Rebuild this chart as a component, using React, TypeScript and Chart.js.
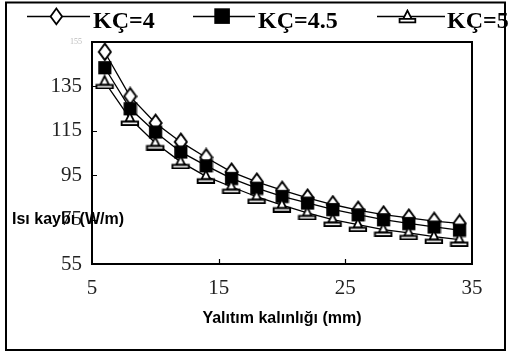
import React, { useEffect, useRef } from "react";
import { Chart, registerables } from "chart.js";

Chart.register(...registerables);

const thickness = [6, 8, 10, 12, 14, 16, 18, 20, 22, 24, 26, 28, 30, 32, 34];
const seriesLabels = ["KÇ=4", "KÇ=4.5", "KÇ=5"];
const kc4 = [150.5, 130.5, 118.5, 110, 103, 96.5, 92, 88.3, 84.8, 81.8, 79.3, 77.2, 75.8, 74.3, 73.3];
const kc45 = [143.5, 125, 114.5, 105.5, 99.3, 93.6, 89.2, 85.5, 82.5, 79.6, 77.2, 75, 73.3, 71.7, 70.3];
const kc5 = [137, 120.5, 109.5, 101, 94.5, 89.8, 85.3, 81.5, 78, 75, 72.7, 70.5, 69, 67.3, 66];
const yTitle = "Isı kaybı (W/m)";
const xTitle = "Yalıtım kalınlığı (mm)";

function makeMarker(kind: string, s = 1): HTMLCanvasElement {
  const c = document.createElement("canvas");
  const ctx = c.getContext("2d")!;
  if (kind === "diamond") {
    c.width = Math.round(14 * s);
    c.height = Math.round(18 * s);
    ctx.scale(s, s);
    ctx.beginPath();
    ctx.moveTo(7, 1.5);
    ctx.lineTo(12.5, 9);
    ctx.lineTo(7, 16.5);
    ctx.lineTo(1.5, 9);
    ctx.closePath();
    ctx.fillStyle = "#fff";
    ctx.fill();
    ctx.lineWidth = 1.7;
    ctx.strokeStyle = "#000";
    ctx.stroke();
  } else if (kind === "square") {
    c.width = Math.round(14 * s);
    c.height = Math.round(14 * s);
    ctx.scale(s, s);
    ctx.fillStyle = "#000";
    ctx.fillRect(1, 1, 12, 12);
  } else {
    c.width = Math.round(18 * s);
    c.height = Math.round(14 * s);
    ctx.scale(s, s);
    ctx.fillStyle = "#fff";
    ctx.strokeStyle = "#000";
    ctx.lineWidth = 1.7;
    ctx.beginPath();
    ctx.moveTo(9, 1.5);
    ctx.lineTo(13, 9.5);
    ctx.lineTo(5, 9.5);
    ctx.closePath();
    ctx.fill();
    ctx.stroke();
    ctx.beginPath();
    ctx.rect(1.5, 9.5, 15, 3.2);
    ctx.fill();
    ctx.stroke();
  }
  return c;
}

export default function App() {
  const ref = useRef<HTMLCanvasElement>(null);
  useEffect(() => {
    const canvas = ref.current!;
    const mDiamond = makeMarker("diamond", 1.1);
    const mSquare = makeMarker("square", 1.1);
    const mTri = makeMarker("tri", 1.1);
    const lDiamond = makeMarker("diamond", 1.05);
    const lSquare = makeMarker("square", 1.3);
    const lTri = makeMarker("tri", 1.05);

    const mk = (vals: number[]) => thickness.map((x, i) => ({ x, y: vals[i] }));

    const decor = {
      id: "decor",
      afterDraw(chart: any) {
        const ctx = chart.ctx;
        const a = chart.chartArea;
        const xs = chart.scales.x;
        const ys = chart.scales.y;
        ctx.save();
        // inward ticks
        ctx.strokeStyle = "#000";
        ctx.lineWidth = 1.2;
        ctx.beginPath();
        [75, 95, 115, 135].forEach((v) => {
          const p = Math.round(ys.getPixelForValue(v)) + 0.5;
          ctx.moveTo(a.left, p);
          ctx.lineTo(a.left + 5, p);
        });
        [15, 25].forEach((v) => {
          const p = Math.round(xs.getPixelForValue(v)) + 0.5;
          ctx.moveTo(p, a.bottom);
          ctx.lineTo(p, a.bottom - 5);
        });
        ctx.stroke();
        // plot frame
        ctx.lineWidth = 2;
        ctx.strokeRect(a.left, a.top, a.right - a.left, a.bottom - a.top);

        // legend
        const items = [
          { x0: 27, x1: 90, mx: 56, tx: 93, img: lDiamond },
          { x0: 193, x1: 255, mx: 222, tx: 258, img: lSquare },
          { x0: 377, x1: 445, mx: 407, tx: 447, img: lTri },
        ];
        const ly = 16;
        ctx.lineWidth = 1.4;
        ctx.font = "bold 24px 'Liberation Serif', 'Times New Roman', serif";
        ctx.fillStyle = "#000";
        ctx.textBaseline = "alphabetic";
        ctx.textAlign = "left";
        items.forEach((it, i) => {
          ctx.beginPath();
          ctx.moveTo(it.x0, ly + 0.5);
          ctx.lineTo(it.x1, ly + 0.5);
          ctx.stroke();
          ctx.drawImage(it.img, Math.round(it.mx - it.img.width / 2), Math.round(ly - it.img.height / 2));
          ctx.fillText(seriesLabels[i], it.tx, 28);
        });

        // titles
        ctx.font = "bold 16px 'Liberation Sans', Arial, sans-serif";
        ctx.textBaseline = "middle";
        ctx.textAlign = "left";
        ctx.fillText(yTitle, 12, 220);
        ctx.textAlign = "center";
        ctx.fillText(xTitle, (a.left + a.right) / 2, 319);

        // outer border
        ctx.lineWidth = 2;
        ctx.strokeRect(6, 2.5, 499, 347.5);
        ctx.restore();
      },
    };

    const labelFont = (c: any) =>
      c.tick && c.tick.value === 155
        ? { family: "'Liberation Serif', serif", size: 8 }
        : { family: "'Liberation Serif', 'Times New Roman', serif", size: 21 };
    const labelColor = (c: any) => (c.tick && c.tick.value === 155 ? "#bbb" : "#222");

    const chart = new Chart(canvas, {
      type: "line",
      data: {
        datasets: [
          {
            label: seriesLabels[2],
            data: mk(kc5),
            borderColor: "#000",
            borderWidth: 1.3,
            pointStyle: mTri as any,
            order: 1,
          },
          {
            label: seriesLabels[1],
            data: mk(kc45),
            borderColor: "#000",
            borderWidth: 1.3,
            pointStyle: mSquare as any,
            order: 2,
          },
          {
            label: seriesLabels[0],
            data: mk(kc4),
            borderColor: "#000",
            borderWidth: 1.3,
            pointStyle: mDiamond as any,
            order: 3,
          },
        ],
      },
      options: {
        responsive: false,
        animation: false,
        devicePixelRatio: 1,
        layout: { padding: { top: 42, right: 37, left: 0, bottom: 0 } },
        plugins: { legend: { display: false }, tooltip: { enabled: false } },
        elements: { line: { tension: 0 } },
        scales: {
          x: {
            type: "linear",
            min: 5,
            max: 35,
            grid: { display: false, drawTicks: false },
            border: { display: false },
            ticks: { stepSize: 10, padding: 12, font: labelFont as any, color: labelColor as any, maxRotation: 0 },
            afterFit: (s: any) => {
              s.height = 89;
            },
          },
          y: {
            type: "linear",
            min: 55,
            max: 155,
            grid: { display: false, drawTicks: false },
            border: { display: false },
            ticks: { stepSize: 20, padding: 10, font: labelFont as any, color: labelColor as any },
            afterFit: (s: any) => {
              s.width = 92;
            },
          },
        },
      },
      plugins: [decor],
    });
    return () => chart.destroy();
  }, []);

  return (
    <div style={{ position: "fixed", left: 0, top: 0, width: 509, height: 353, background: "#fff" }}>
      <canvas ref={ref} width={509} height={353} style={{ width: 509, height: 353, display: "block" }} />
    </div>
  );
}
